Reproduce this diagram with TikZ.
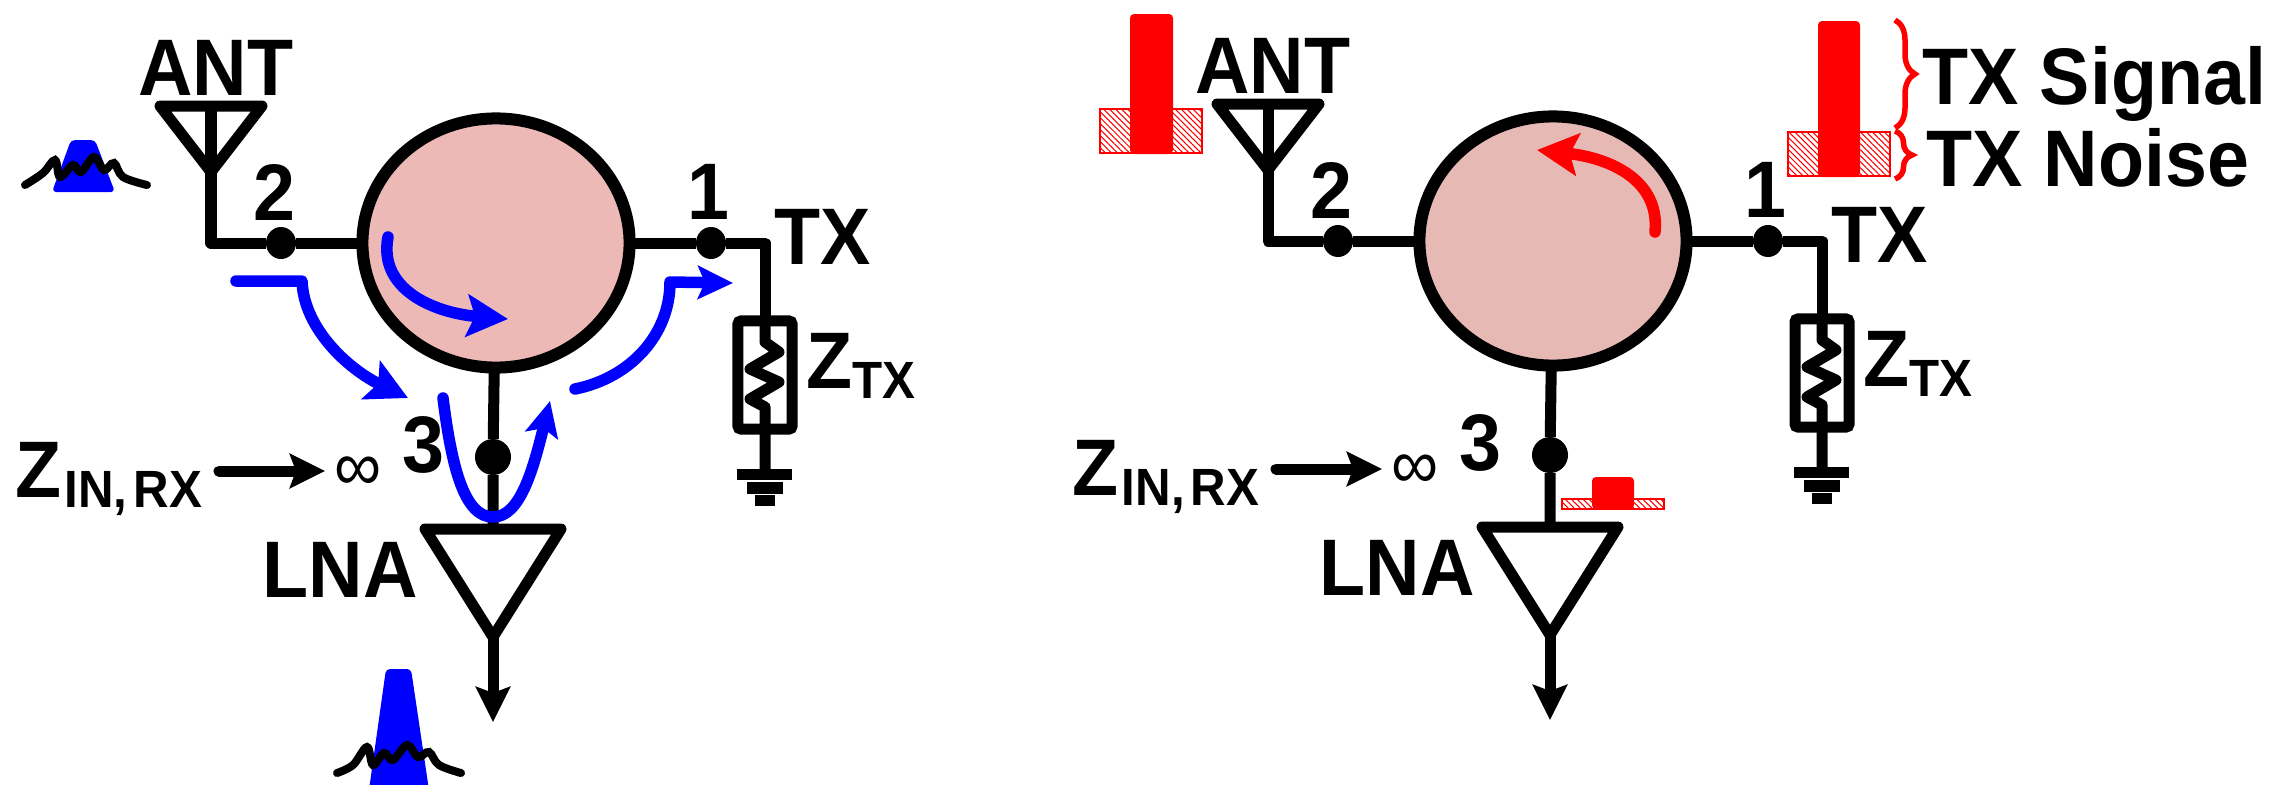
\documentclass[tikz,border=0pt]{standalone}
\usepackage{fontspec}
\setmainfont{Liberation Sans}[FakeStretch=0.94]
\usepackage{tikz}
\usetikzlibrary{arrows,arrows.meta,shapes,positioning,patterns.meta,decorations.pathreplacing}
\usepackage{xcolor}
\definecolor{circleft}{RGB}{237,185,183}
\definecolor{circright}{RGB}{230,185,181}
\definecolor{flowblue}{RGB}{0,0,255}
\definecolor{txred}{RGB}{255,0,0}
\tikzstyle{wire} = [line width=0.11cm, line join=round, color=black]
\tikzstyle{sigarrow} = [wire, ->, >={Stealth[length=0.35cm, width=0.34cm, inset=0.06cm]}]
\tikzstyle{flow} = [line width=0.115cm, line join=round, line cap=round, ->, >={Stealth[length=0.41cm, width=0.42cm, inset=0.08cm]}, color=flowblue]
\tikzstyle{flowsmall} = [flow, >={Stealth[length=0.35cm, width=0.33cm, inset=0.07cm]}]
\tikzstyle{squiggle} = [line width=0.08cm, line cap=round, color=black]
\tikzstyle{circulator} = [ellipse, draw=black, line width=0.12cm, inner sep=0pt, outer sep=0pt, minimum width=2.67cm, minimum height=2.49cm]
\tikzstyle{port} = [ellipse, fill=black, inner sep=0pt, outer sep=0pt, minimum width=0.3cm, minimum height=0.32cm]
\tikzstyle{lbl} = [font=\fontsize{22.8pt}{24pt}\selectfont\bfseries, inner sep=0pt, anchor=base]
\tikzstyle{noisebar} = [draw=txred, line width=0.02cm, pattern={Lines[angle=-45,distance=1.2pt,line width=0.3pt]}, pattern color=txred]
\tikzstyle{signalbar} = [fill=txred, rounded corners=0.04cm]
\tikzstyle{txbrace} = [draw=txred, line width=0.055cm, decorate]
\newcommand{\zsub}[1]{Z{\fontsize{14.9pt}{16pt}\selectfont\raisebox{-0.1cm}{#1}}}

\begin{document}
\begin{tikzpicture}[x=0.01cm, y=-0.01cm]
\useasboundingbox (0,0) rectangle (2272,784);

\foreach \n/\dx/\dy/\cfill in {L/0/0/circleft, R/1057/-2/circright} {
\begin{scope}[shift={(\dx,\dy)}]
% Circulator and ports
\node (circ\n) at (496,243) [circulator, fill=\cfill] {};
\node (twodot\n) at (281,243) [port] {};
\node (onedot\n) at (711,243) [port] {};
\node (threedot\n) at (493,457) [port, minimum width=0.36cm, minimum height=0.36cm] {};
\node (two\n) at (274,220) [lbl] {2};
\node (one\n) at (708,219) [lbl] {1};
\node (three\n) at (423,472) [lbl] {3};

% Antenna
\coordinate (anttip\n) at (211,172);
\draw[wire] (160,106) -- (262,106) -- (anttip\n) -- cycle;
\draw[wire] (211,106) -- (anttip\n);
\node (ant\n) at (216,95) [lbl] {ANT};
\draw[wire] (anttip\n) |- (twodot\n) -- (circ\n);

% TX branch with termination
\node (zbox\n) at (765,375) [rectangle, draw=black, line width=0.11cm, rounded corners=0.03cm, minimum width=0.54cm, minimum height=1.08cm, inner sep=0pt, outer sep=0pt] {};
\draw[wire] (circ\n) -- (onedot\n) -| (zbox\n.north);
\node (tx\n) at (823,264) [lbl] {TX};
\node (ztx\n) at (806,388) [lbl, anchor=base west] {\zsub{TX}};
\coordinate (gnd\n) at (765,469);
\draw[wire] (zbox\n.north) -- (765,342) -- (779,352) -- (750,369) -- (779,382) -- (750,399) -- (765,407) -- (zbox\n.south) -- (gnd\n);
\fill[black] (737,469) rectangle (792,480);
\fill[black] (747,482) rectangle (783,494);
\fill[black] (755,495) rectangle (775,506);

% LNA
\coordinate (lnatop\n) at (493,529);
\coordinate (lnatip\n) at (493,637);
\coordinate (lnaout\n) at (493,722);
\draw[wire] (425,529) -- (561,529) -- (lnatip\n) -- cycle;
\draw[wire] (circ\n) -- (threedot\n) -- (lnatop\n);
\draw[sigarrow] (lnatip\n) -- (lnaout\n);
\node (lna\n) at (340,597) [lbl] {LNA};

% Input impedance
\node (zin\n) at (15,497) [lbl, anchor=base west] {\zsub{\kern0.03cm IN,\kern0.06cm RX}};
\node (inf\n) at (358,490) [lbl, font=\fontsize{20pt}{21pt}\selectfont] {∞};
\coordinate (zinout\n) at (219,471);
\coordinate (zintip\n) at (325,471);
\draw[sigarrow, line cap=round] (zinout\n) -- (zintip\n);
\end{scope}
}

% Blue signal flow
\coordinate (flowa) at (236,281);
\coordinate (flowb) at (408,398);
\draw[flow] (flowa) -- (302,281) .. controls (304,330) and (350,370) .. (flowb);
\coordinate (flowc) at (388,237);
\coordinate (flowd) at (508,319);
\draw[flow] (flowc) .. controls (378,290) and (435,313) .. (flowd);
\coordinate (flowe) at (443,398);
\coordinate (flowf) at (550,401);
\draw[flowsmall] (flowe) .. controls (452,470) and (465,517) .. (493,517) .. controls (520,517) and (533,470) .. (flowf);
\coordinate (flowg) at (575,389);
\coordinate (flowh) at (733,283);
\draw[flowsmall] (flowg) .. controls (630,378) and (670,335) .. (670,282) -- (flowh);

% Blue spectra
\fill[flowblue, rounded corners=0.04cm] (52,192) -- (71,140) -- (95,140) -- (115,192) -- cycle;
\draw[squiggle] plot[smooth, tension=0.6] coordinates {(25,185) (43,173) (55,160) (60,177) (73,165) (81,172) (94,157) (104,170) (114,163) (123,177) (147,185)};
\fill[flowblue, rounded corners=0.04cm] (369,790) -- (386,669) -- (411,669) -- (429,790) -- cycle;
\draw[squiggle] plot[smooth, tension=0.6] coordinates {(337,773) (353,765) (367,747) (373,765) (384,753) (393,760) (407,745) (418,757) (429,752) (439,765) (461,773)};

% Red spectra
\draw[noisebar] (1100,109) rectangle (1202,153);
\fill[signalbar] (1130,14) rectangle (1173,154);
\draw[noisebar] (1788,132) rectangle (1890,176);
\fill[signalbar] (1818,21) rectangle (1860,177);
\draw[noisebar] (1562,499) rectangle (1664,509);
\fill[signalbar] (1592,477) rectangle (1634,509);

% Leakage path
\coordinate (flowi) at (1655,232);
\coordinate (flowj) at (1537,150);
\draw[flow, color=txred] (flowi) .. controls (1660,180) and (1610,158) .. (flowj);

% Braces
\coordinate (bracea) at (1895,20);
\coordinate (braceb) at (1895,128);
\coordinate (bracec) at (1895,131);
\coordinate (braced) at (1895,179);
\draw[txbrace, decoration={brace, amplitude=0.2cm}] (bracea) -- (braceb);
\draw[txbrace, decoration={brace, amplitude=0.17cm}] (bracec) -- (braced);
\node (txsignal) at (1922,104) [lbl, anchor=base west] {TX Signal};
\node (txnoise) at (1926,186) [lbl, anchor=base west] {TX Noise};
\end{tikzpicture}
\end{document}
